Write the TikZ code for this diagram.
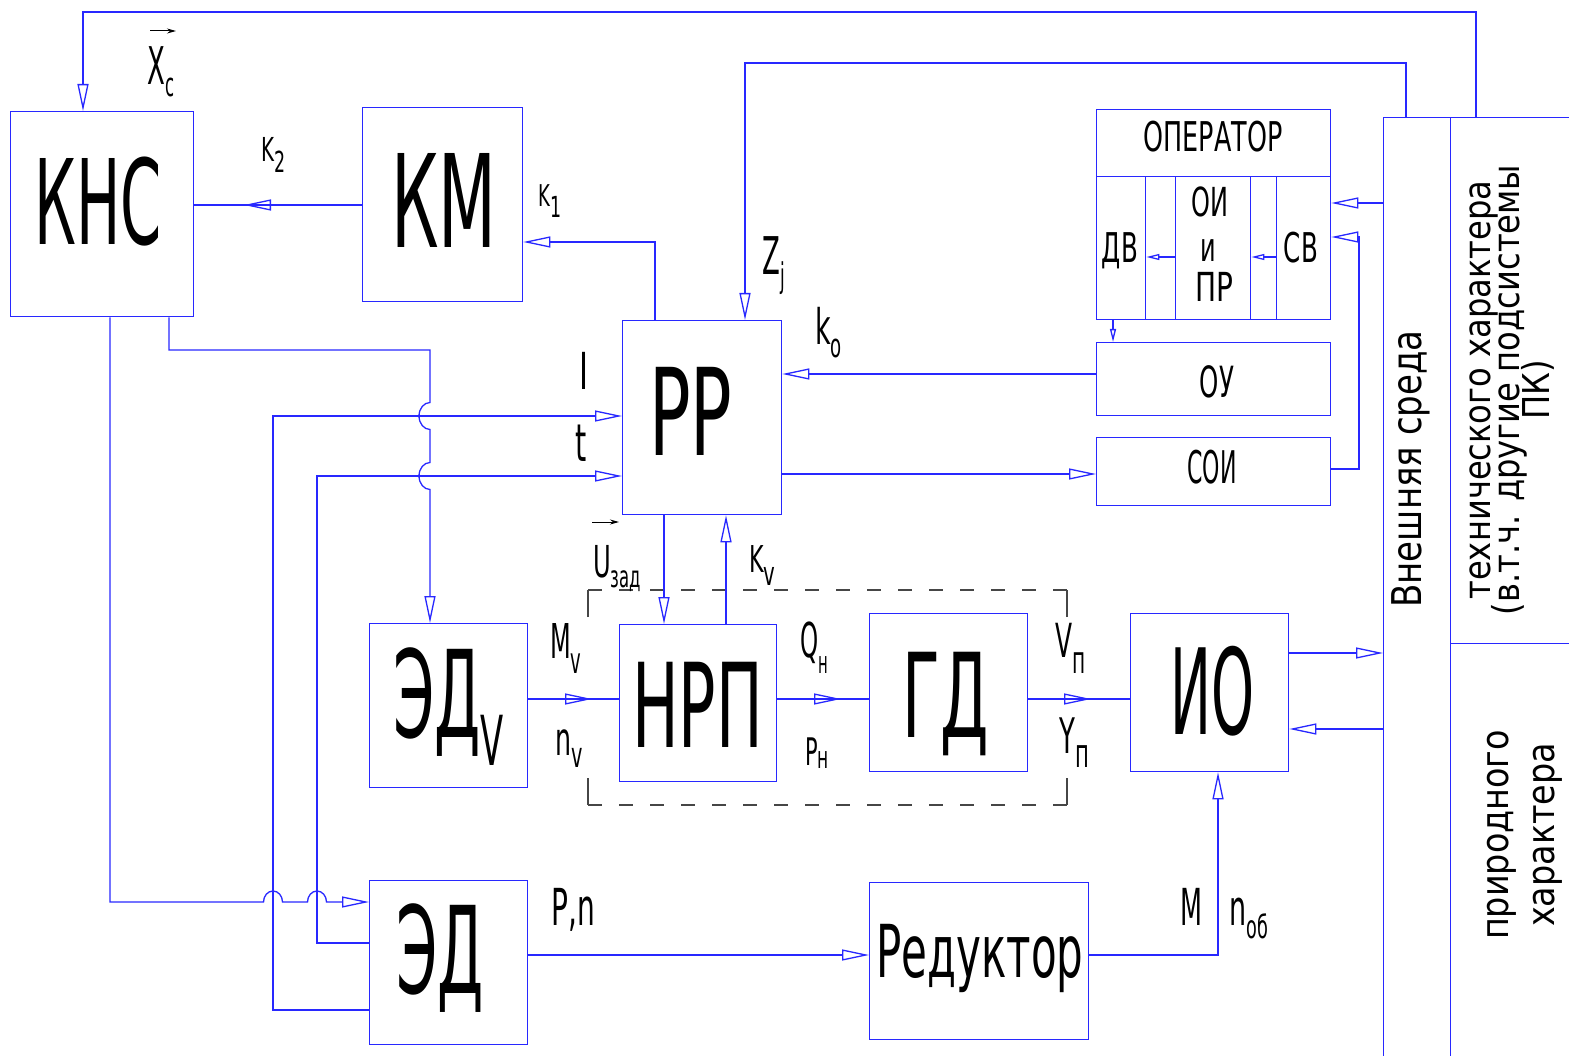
\documentclass[tikz,border=0pt]{standalone}
\usepackage{fontspec}
\setmainfont{DejaVu Sans}
\usetikzlibrary{arrows.meta,calc}
\definecolor{ln}{RGB}{40,40,255}
\definecolor{dsh}{RGB}{70,70,70}
\newcommand\fsz[1]{\fontsize{#1}{#1}\selectfont}
\newcommand\lsub[3]{\raisebox{-#1pt}{\fsz{#2}#3}}
\newcommand\tx[3]{\scalebox{#2}[1]{\fsz{#1}#3}}
\tikzset{
  box/.style={draw=ln, line width=1.3pt, inner sep=0pt, anchor=north west},
  txt/.style={inner sep=0pt, anchor=base west, text=black},
  ctxt/.style={inner sep=0pt, anchor=base, text=black},
  conn/.style={draw=ln, line width=1.3pt},
  arr/.style={-{Triangle[open,length=27pt,width=11pt]}},
  sarr/.style={-{Triangle[open,length=13pt,width=6pt]}},
  vec/.style={draw=black, line width=1pt, -{Stealth[length=9pt,width=5pt]}},
  dline/.style={draw=dsh, line width=1.2pt, dash pattern=on 14pt off 17pt},
  sline/.style={draw=dsh, line width=1.2pt}
}
\begin{document}
\begin{tikzpicture}[x=1pt,y=-1pt]
\useasboundingbox (0,0) rectangle (1569,1056);
\fill[white] (0,0) rectangle (1569,1056);

% boxes
\node[box,minimum width=183pt,minimum height=205pt] (khc) at (10,111) {};
\node[box,minimum width=160pt,minimum height=194pt] (km) at (362,107) {};
\node[box,minimum width=159pt,minimum height=194pt] (pp) at (622,320) {};
\node[box,minimum width=234pt,minimum height=67pt] (op) at (1096,109) {};
\node[box,minimum width=49pt,minimum height=143pt] (dv) at (1096,176) {};
\node[box,minimum width=30pt,minimum height=143pt] (g1) at (1145,176) {};
\node[box,minimum width=75pt,minimum height=143pt] (oi) at (1175,176) {};
\node[box,minimum width=26pt,minimum height=143pt] (g2) at (1250,176) {};
\node[box,minimum width=54pt,minimum height=143pt] (sv) at (1276,176) {};
\node[box,minimum width=234pt,minimum height=73pt] (ou) at (1096,342) {};
\node[box,minimum width=234pt,minimum height=68pt] (soi) at (1096,437) {};
\node[box,minimum width=67pt,minimum height=950pt] (ext) at (1383,117) {};
\node[box,minimum width=130pt,minimum height=526pt] (tech) at (1450,117) {};
\node[box,minimum width=130pt,minimum height=420pt] (nat) at (1450,643) {};
\node[box,minimum width=158pt,minimum height=164pt] (edv) at (369,623) {};
\node[box,minimum width=157pt,minimum height=157pt] (nrp) at (619,624) {};
\node[box,minimum width=158pt,minimum height=158pt] (gd) at (869,613) {};
\node[box,minimum width=158pt,minimum height=158pt] (io) at (1130,613) {};
\node[box,minimum width=158pt,minimum height=164pt] (ed) at (369,880) {};
\node[box,minimum width=219pt,minimum height=157pt] (red) at (869,882) {};

% dashed frame
\draw[dline] (588,590) -- (1067,590);
\draw[dline] (588,805) -- (1067,805);
\draw[sline] (588,617) -- (588,590);
\draw[sline] (1067,617) -- (1067,590);
\draw[sline] (588,778) -- (588,805);
\draw[sline] (1067,778) -- (1067,805);

% big texts
\node[txt] (tkhc) at (34,245) {\tx{118}{0.5}{КНС}};
\node[txt] (tkm) at (391,248) {\tx{129}{0.52}{КМ}};
\node[txt] (tpp) at (649,455) {\tx{121}{0.57}{РР}};
\node[txt] (tnrp) at (632,747) {\tx{117}{0.53}{НРП}};
\node[txt] (tgd) at (902,737) {\tx{117}{0.53}{ГД}};
\node[txt] (tedv) at (393,737) {\tx{121}{0.49}{ЭД\lsub{28}{69}{V}}};
\node[txt] (ted) at (396,993) {\tx{121}{0.49}{ЭД}};
\node[txt] (tio) at (1170,734) {\tx{119}{0.46}{ИО}};
\node[txt] (tred) at (876,977) {\tx{73}{0.575}{Редуктор}};
\node[ctxt] (top) at (1213,152) {\tx{41}{0.62}{ОПЕРАТОР}};
\node[ctxt] (tdv) at (1120,263) {\tx{41}{0.6}{ДВ}};
\node[ctxt] (toi) at (1210,217) {\tx{40}{0.6}{ОИ}};
\node[ctxt] (ti) at (1208,262) {\tx{40}{0.6}{и}};
\node[ctxt] (tpr) at (1214,302) {\tx{40}{0.7}{ПР}};
\node[ctxt] (tsv) at (1301,263) {\tx{41}{0.6}{СВ}};
\node[ctxt] (tou) at (1217,398) {\tx{43}{0.57}{ОУ}};
\node[ctxt] (tsoi) at (1212,483) {\tx{45}{0.49}{СОИ}};

% rotated texts
\node[ctxt,rotate=90] (text) at (1421,469) {\tx{41}{0.83}{Внешняя среда}};
\node[inner sep=0pt,rotate=90,align=center,text=black] (ttech) at (1512,390)
  {\tx{37}{0.87}{технического характера}\\[-7pt]\tx{37}{0.87}{(в.т.ч. другие подсистемы}\\[-7pt]\tx{37}{0.87}{ПК)}};
\node[inner sep=0pt,rotate=90,align=center,text=black] (tnat) at (1525,835)
  {\tx{38}{0.88}{природного}\\[16pt]\tx{38}{0.88}{характера}};

% labels
\node[txt] (lxc) at (147,85) {\tx{52}{0.5}{X\lsub{12}{33}{c}}};
\draw[vec] (150,31) -- (176,31);
\node[txt] (lk2) at (261,162) {\tx{33}{0.6}{K\lsub{11}{29}{2}}};
\node[txt] (lk1) at (538,207) {\tx{30}{0.6}{K\lsub{11}{29}{1}}};
\node[txt] (lzj) at (762,275) {\tx{52}{0.5}{Z\lsub{13}{34}{j}}};
\node[txt] (lko) at (815,345) {\tx{49}{0.55}{k\lsub{13}{33}{o}}};
\node[txt] (li) at (579,390) {\tx{51}{0.6}{I}};
\node[txt] (lt) at (575,461) {\tx{52}{0.55}{t}};
\node[txt] (lu) at (593,577) {\tx{44}{0.55}{U\lsub{10}{30}{зад}}};
\draw[vec] (592,522) -- (619,522);
\node[txt] (lkv) at (749,572) {\tx{37}{0.6}{K\lsub{13}{33}{v}}};
\node[txt] (lmv) at (550,658) {\tx{48}{0.5}{M\lsub{15}{36}{v}}};
\node[txt] (lnv) at (555,755) {\tx{46}{0.55}{n\lsub{12}{35}{v}}};
\node[txt] (lqn) at (800,657) {\tx{48}{0.48}{Q\lsub{16}{31}{н}}};
\node[txt] (lpn) at (805,765) {\tx{38}{0.55}{P\lsub{3}{31}{н}}};
\node[txt] (lvp) at (1055,657) {\tx{47}{0.53}{V\lsub{16}{38}{п}}};
\node[txt] (lyp) at (1059,753) {\tx{49}{0.53}{Y\lsub{14}{40}{п}}};
\node[txt] (lpn2) at (551,925) {\tx{51}{0.55}{P,n}};
\node[txt] (lm) at (1180,925) {\tx{51}{0.5}{M}};
\node[txt] (lnob) at (1229,925) {\tx{49}{0.55}{n\lsub{13}{32}{об}}};

% connectors
\draw[conn,arr] (1476,0 |- tech.north) |- (83,12) -- (83,0 |- khc.north);
\draw[conn,arr] (1406,0 |- ext.north) |- (745,63) -- (745,0 |- pp.north);
\draw[conn] (km.west |- 0,205) -- (khc.east |- 0,205);
\draw[conn,arr] (km.west |- 0,205) -- (244,205);
\draw[conn,arr] (655,0 |- pp.north) |- (km.east |- 0,242);
\draw[conn,arr] (ou.west |- 0,374) -- (pp.east |- 0,374);
\draw[conn,arr] (pp.east |- 0,474) -- (soi.west |- 0,474);
\draw[conn,arr] (soi.east |- 0,469) -| (1359,237) -- (sv.east |- 0,237);
\draw[conn,arr] (ext.west |- 0,203) -- (sv.east |- 0,203);
\draw[conn,sarr] (1113,0 |- dv.south) -- (1113,0 |- ou.north);
\draw[conn,sarr] (oi.west |- 0,257) -- (dv.east |- 0,257);
\draw[conn,sarr] (sv.west |- 0,257) -- (oi.east |- 0,257);
\draw[conn,arr] (169,0 |- khc.south) |- (430,350) -- (430,402.5)
  arc[start angle=90,end angle=270,x radius=11pt,y radius=13.5pt] -- (430,462.5)
  arc[start angle=90,end angle=270,x radius=11pt,y radius=13.5pt] -- (430,0 |- edv.north);
\draw[conn,arr] (ed.west |- 0,1010) -| (273,416) -- (pp.west |- 0,416);
\draw[conn,arr] (ed.west |- 0,943) -| (317,476) -- (pp.west |- 0,476);
\draw[conn,arr] (110,0 |- khc.south) |- (263.5,902)
  arc[start angle=180,end angle=0,x radius=9.5pt,y radius=11pt] -- (307.5,902)
  arc[start angle=180,end angle=0,x radius=9.5pt,y radius=11pt] -- (ed.west |- 0,902);
\draw[conn,arr] (664,0 |- pp.south) -- (664,0 |- nrp.north);
\draw[conn,arr] (726,0 |- nrp.north) -- (726,0 |- pp.south);
\draw[conn] (edv.east |- 0,699) -- (nrp.west |- 0,699);
\draw[conn,arr] (edv.east |- 0,699) -- (592,699);
\draw[conn] (nrp.east |- 0,699) -- (gd.west |- 0,699);
\draw[conn,arr] (nrp.east |- 0,699) -- (841,699);
\draw[conn] (gd.east |- 0,699) -- (io.west |- 0,699);
\draw[conn,arr] (gd.east |- 0,699) -- (1091,699);
\draw[conn,arr] (io.east |- 0,653) -- (ext.west |- 0,653);
\draw[conn,arr] (ext.west |- 0,729) -- (io.east |- 0,729);
\draw[conn,arr] (ed.east |- 0,955) -- (red.west |- 0,955);
\draw[conn,arr] (red.east |- 0,955) -| (1218,0 |- io.south);
\end{tikzpicture}
\end{document}
